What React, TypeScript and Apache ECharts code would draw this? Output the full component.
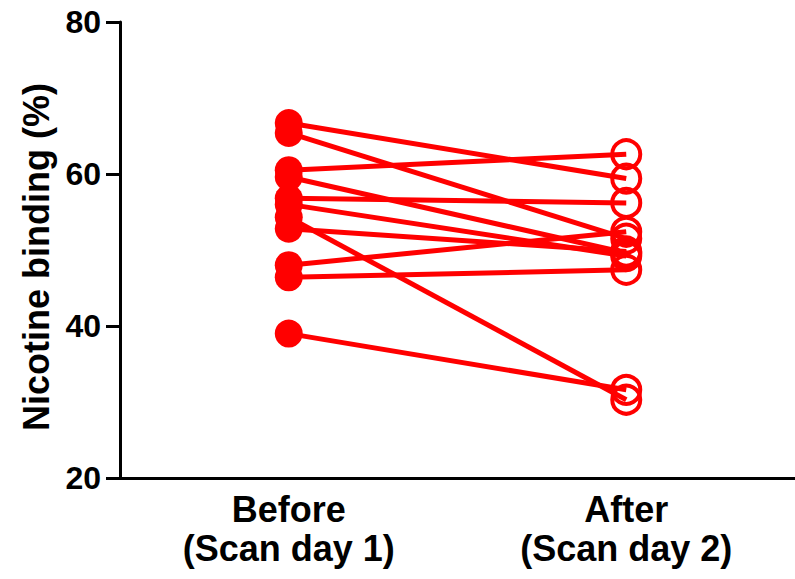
import React, { useEffect, useRef } from "react";
import * as echarts from "echarts";

const categories = ["Before\n(Scan day 1)", "After\n(Scan day 2)"];
const beforeValues = [66.7, 65.4, 60.5, 59.6, 56.8, 56.0, 54.3, 52.8, 48.0, 46.4, 39.0];
const afterValues = [59.4, 51.5, 62.6, 49.6, 56.2, 49.2, 30.3, 49.8, 52.4, 47.4, 31.6];
const yTicks = { min: 20, max: 80, interval: 20 };
const yName = "Nicotine binding (%)";

const RED = "#ff0000";
const FONT = "Liberation Sans, Arial, sans-serif";

export default function App() {
  const ref = useRef<HTMLDivElement>(null);
  useEffect(() => {
    if (!ref.current) return;
    const chart = echarts.init(ref.current, undefined, { renderer: "svg" });
    const series = beforeValues.map((b, i) => ({
      type: "line",
      name: "subject " + (i + 1),
      data: [
        { value: b, symbol: "circle", symbolSize: 28, itemStyle: { color: RED } },
        {
          value: afterValues[i],
          symbol: "circle",
          symbolSize: 28,
          itemStyle: { color: "rgba(0,0,0,0)", borderColor: RED, borderWidth: 4 },
        },
      ],
      lineStyle: { color: RED, width: 5 },
      itemStyle: { color: RED },
      z: 2,
    }));
    chart.setOption({
      animation: false,
      backgroundColor: "#ffffff",
      grid: { left: 120, top: 22, bottom: 101, width: 680 },
      xAxis: {
        type: "category",
        data: categories,
        boundaryGap: true,
        axisLine: { lineStyle: { color: "#000", width: 3 } },
        axisTick: { show: false },
        axisLabel: {
          color: "#000",
          fontFamily: FONT,
          fontWeight: "bold",
          fontSize: 36,
          lineHeight: 39,
          margin: 12,
        },
      },
      yAxis: {
        type: "value",
        min: yTicks.min,
        max: yTicks.max,
        interval: yTicks.interval,
        name: yName,
        nameLocation: "middle",
        nameGap: 66,
        nameTextStyle: {
          color: "#000",
          fontFamily: FONT,
          fontWeight: "bold",
          fontSize: 36,
          padding: [0, 14, 0, 0],
        },
        splitLine: { show: false },
        axisLine: { show: true, lineStyle: { color: "#000", width: 3 } },
        axisTick: { show: true, length: 14, lineStyle: { color: "#000", width: 3 } },
        axisLabel: {
          color: "#000",
          fontFamily: FONT,
          fontWeight: "bold",
          fontSize: 32,
          margin: 19,
        },
      },
      series,
    });
    return () => chart.dispose();
  }, []);
  return (
    <div
      ref={ref}
      style={{ position: "fixed", left: 0, top: 0, width: 795, height: 579, background: "#fff" }}
    />
  );
}
